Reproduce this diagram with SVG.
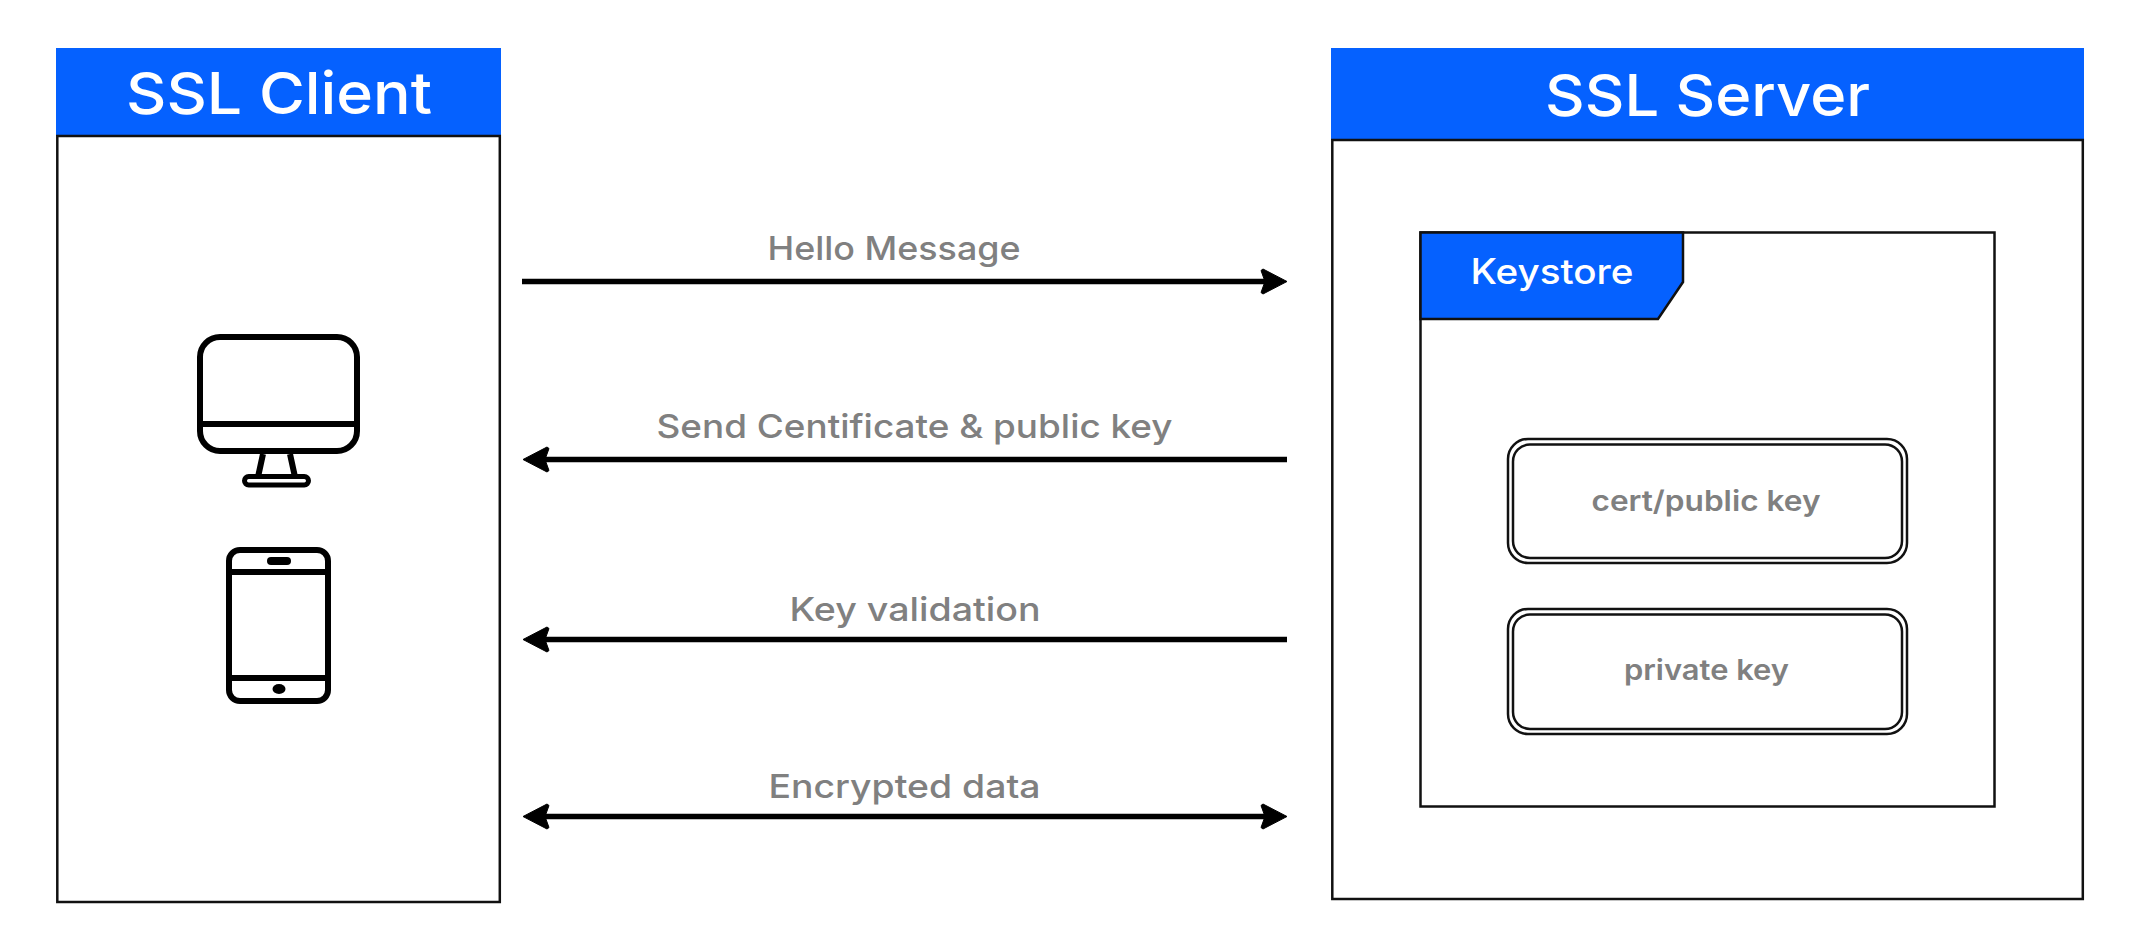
<svg xmlns="http://www.w3.org/2000/svg" width="2140" height="951" viewBox="0 0 2140 951">
<style>
text{font-family:Inter,"Liberation Sans",sans-serif;text-anchor:middle}
.head{fill:#0561ff}
.line{fill:none;stroke:#111;stroke-width:2.5}
.title{fill:#fff;font-size:58px;font-weight:500}
.tab{fill:#fff;font-size:35px;font-weight:500}
.lab{fill:#808080;font-size:33px;font-weight:500}
.key{fill:#808080;font-size:28px;font-weight:600}
.icon{fill:none;stroke:#000;stroke-width:6}
.dbl{fill:none;stroke:#111;stroke-width:2.5}
.arrow{fill:none;stroke:#000;stroke-width:5.500}
</style>
<defs>
<marker id="end" markerUnits="userSpaceOnUse" markerWidth="30" markerHeight="28" refX="20" refY="14" orient="auto-start-reverse" viewBox="0 0 30 28">
<path d="M27 14 L3 1.500 L1 3 L5 14 L1 25 L3 26.500 Z" fill="#000" stroke="#000" stroke-width="1" stroke-linejoin="round"/>
</marker>
</defs>
<rect width="2140" height="951" fill="#fff"/>
<g id="client">
<rect class="head" x="56" y="48" width="445" height="88"/>
<rect class="line" x="57.3" y="136" width="442.500" height="766"/>
<text class="title" x="279" y="114" textLength="306" lengthAdjust="spacingAndGlyphs">SSL Client</text>
</g>
<g id="monitor">
<rect class="icon" x="200" y="337" width="157" height="114" rx="20"/>
<path class="icon" d="M200 424H357"/>
<path class="icon" stroke-width="5" d="M263 454L258 477M290 454L295 477"/>
<rect x="244.500" y="476.500" width="64" height="8.500" rx="4.200" fill="none" stroke="#000" stroke-width="5"/>
</g>
<g id="phone">
<rect class="icon" x="229" y="550" width="99" height="151" rx="11"/>
<path class="icon" d="M229 572H328M229 678H328"/>
<rect x="267" y="557" width="24" height="8" rx="4" fill="#000"/>
<ellipse cx="279" cy="689" rx="6.500" ry="5" fill="#000"/>
</g>
<g id="server">
<rect class="head" x="1331" y="48" width="753" height="92"/>
<rect class="line" x="1332.300" y="140" width="750.500" height="759"/>
<text class="title" x="1707.500" y="116" textLength="325" lengthAdjust="spacingAndGlyphs">SSL Server</text>
</g>
<g id="keystore">
<rect class="line" x="1420.500" y="232.500" width="574" height="574"/>
<path class="head" stroke="#111" stroke-width="2.500" d="M1420.500 232.500H1683V282L1658 319H1420.500Z"/>
<text class="tab" x="1552" y="284" textLength="163" lengthAdjust="spacingAndGlyphs">Keystore</text>
</g>
<g id="cert">
<rect class="dbl" x="1508" y="439" width="399" height="124" rx="20"/>
<rect class="dbl" x="1513" y="444.500" width="389" height="113.500" rx="17"/>
<text class="key" x="1706" y="511" textLength="229" lengthAdjust="spacingAndGlyphs">cert/public key</text>
</g>
<g id="private">
<rect class="dbl" x="1508" y="609" width="399" height="125" rx="20"/>
<rect class="dbl" x="1513" y="614.500" width="389" height="114.500" rx="17"/>
<text class="key" x="1706.500" y="680" textLength="165" lengthAdjust="spacingAndGlyphs">private key</text>
</g>
<g id="connectors">
<path class="arrow" d="M522 281.500H1280" marker-end="url(#end)"/>
<path class="arrow" d="M1287 459.500H530" marker-end="url(#end)"/>
<path class="arrow" d="M1287 639.500H530" marker-end="url(#end)"/>
<path class="arrow" d="M530 816.500H1280" marker-start="url(#end)" marker-end="url(#end)"/>
<text class="lab" x="894" y="260" textLength="253" lengthAdjust="spacingAndGlyphs">Hello Message</text>
<text class="lab" x="914.500" y="438" textLength="516" lengthAdjust="spacingAndGlyphs">Send Centificate &amp; public key</text>
<text class="lab" x="915" y="620.500" textLength="251" lengthAdjust="spacingAndGlyphs">Key validation</text>
<text class="lab" x="904.500" y="798" textLength="272" lengthAdjust="spacingAndGlyphs">Encrypted data</text>
</g>
</svg>
